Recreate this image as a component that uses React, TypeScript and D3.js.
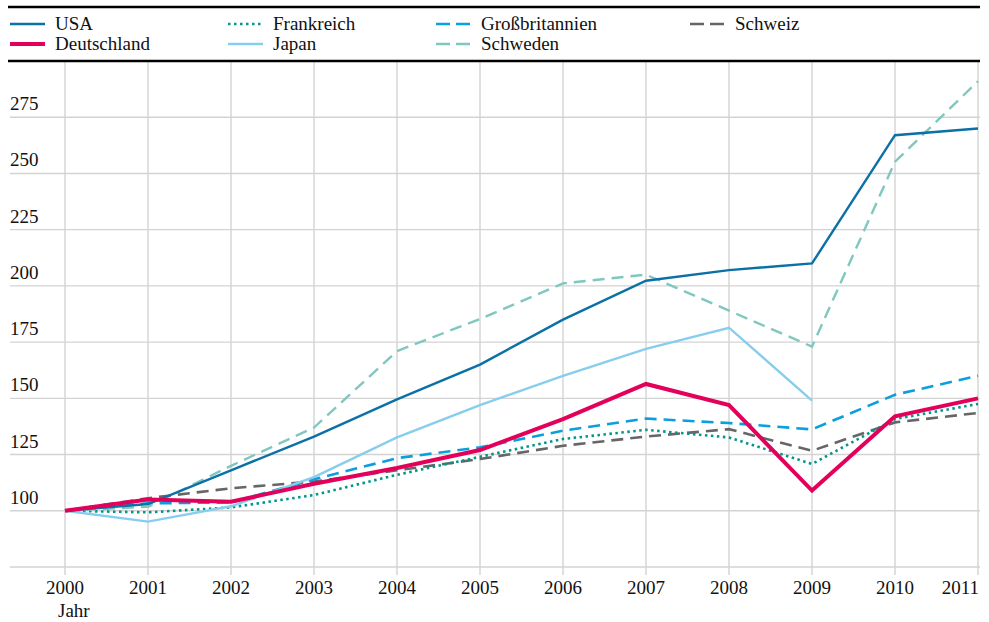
import * as d3 from 'd3';

const years = [2000, 2001, 2002, 2003, 2004, 2005, 2006, 2007, 2008, 2009, 2010, 2011];
const yTicks = [100, 125, 150, 175, 200, 225, 250, 275];
const yGrid = [75, 100, 125, 150, 175, 200, 225, 250, 275];

const usa = [100, 103, 118, 133, 149.5, 165, 185, 202.3, 207, 210, 267, 270];
const deutschland = [100, 105, 104, 112, 119, 127, 140.8, 156.4, 147, 109, 142, 150];
const frankreich = [100, 99.3, 101.5, 107, 116, 124, 131.9, 136, 132.6, 120.8, 140.8, 147.5];
const japan = [100, 95.2, 102, 115, 132.6, 147, 160, 172, 181.4, 149];
const grossbritannien = [100, 103.3, 103.7, 114, 123.4, 128.2, 135.6, 141, 139, 136.2, 151.6, 160];
const schweden = [100, 101.8, 120, 137, 171, 185.3, 201.1, 205, 189, 173, 255.2, 291];
const schweiz = [100, 105.6, 110, 113, 118, 123, 128.9, 133, 136.3, 126.7, 139.3, 143.5];

type Series = { name: string; values: number[]; color: string; width: number; dash?: string; col: number; row: number };

const series: Series[] = [
  { name: 'Schweiz', values: schweiz, color: '#666666', width: 2.6, dash: '12,7', col: 3, row: 0 },
  { name: 'Frankreich', values: frankreich, color: '#00968c', width: 2.6, dash: '2.5,3.5', col: 1, row: 0 },
  { name: 'Großbritannien', values: grossbritannien, color: '#0a9fdd', width: 2.6, dash: '12,7', col: 2, row: 0 },
  { name: 'Japan', values: japan, color: '#86cdee', width: 2.4, col: 1, row: 1 },
  { name: 'Schweden', values: schweden, color: '#80c7bf', width: 2.4, dash: '12,7', col: 2, row: 1 },
  { name: 'USA', values: usa, color: '#0a70a6', width: 2.4, col: 0, row: 0 },
  { name: 'Deutschland', values: deutschland, color: '#e2005a', width: 4, col: 0, row: 1 },
];

const legendX = [10, 228, 436, 690];

export default function App() {
  const W = 989, H = 622;
  const x = d3.scaleLinear().domain([2000, 2011]).range([65, 978]);
  const y = d3.scaleLinear().domain([75, 300]).range([567, 61]);
  const line = d3.line<number>().x((_, i) => x(years[i])).y(d => y(d));
  const font = '"Liberation Serif", "Times New Roman", serif';
  const fs = 19;

  return (
    <svg width={W} height={H} style={{ position: 'absolute', left: 0, top: 0, fontFamily: font }}>
      <rect width={W} height={H} fill="#fff" />
      {/* grid */}
      {yGrid.map(v => (
        <line key={'h' + v} x1={10} x2={980} y1={y(v)} y2={y(v)} stroke="#d3d3d3" strokeWidth={1.4} />
      ))}
      {years.map(yr => (
        <line key={'v' + yr} x1={x(yr)} x2={x(yr)} y1={61} y2={575} stroke="#d3d3d3" strokeWidth={1.4} />
      ))}
      {/* rules */}
      <line x1={8} x2={980} y1={7} y2={7} stroke="#000" strokeWidth={2.5} />
      <line x1={8} x2={980} y1={61} y2={61} stroke="#000" strokeWidth={2.5} />
      {/* y labels */}
      {yTicks.map(v => (
        <text key={'t' + v} x={10} y={y(v) - 7} fontSize={fs} fill="#111">{v}</text>
      ))}
      {/* x labels */}
      {years.map((yr, i) => (
        <text key={'x' + yr} x={i === years.length - 1 ? x(yr) + 1 : x(yr)} y={594} fontSize={fs} fill="#111"
          textAnchor={i === years.length - 1 ? 'end' : 'middle'}>{yr}</text>
      ))}
      <text x={58} y={617} fontSize={fs} fill="#111">Jahr</text>
      {/* lines */}
      {series.map(s => (
        <path key={s.name} d={line(s.values) || ''} fill="none" stroke={s.color} strokeWidth={s.width}
          strokeDasharray={s.dash} strokeLinejoin="miter" />
      ))}
      {/* legend */}
      {series.map(s => {
        const lx = legendX[s.col];
        const ly = 24 + s.row * 20;
        return (
          <g key={'l' + s.name}>
            <line x1={lx} x2={lx + 35} y1={ly} y2={ly} stroke={s.color} strokeWidth={s.width === 4 ? 4 : 2.6}
              strokeDasharray={s.dash === '12,7' ? '14,6' : s.dash} />
            <text x={lx + 45} y={ly + 6} fontSize={fs} fill="#111">{s.name}</text>
          </g>
        );
      })}
    </svg>
  );
}
